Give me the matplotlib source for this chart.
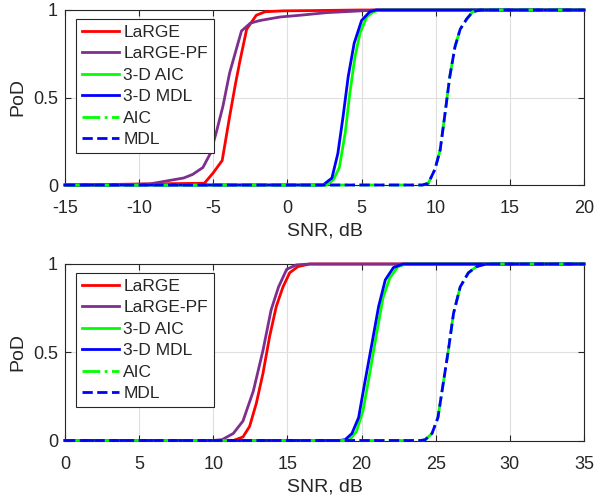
import matplotlib
matplotlib.use("Agg")
import matplotlib.pyplot as plt

plt.rcParams['font.family'] = ['Liberation Sans', 'DejaVu Sans']

labels = ["LaRGE", "LaRGE-PF", "3-D AIC", "3-D MDL", "AIC", "MDL"]

# ---- Top panel data (SNR in dB, PoD) ----
top_large_x = [-15, -5.6, -5.0, -4.4, -3.9, -3.5, -3.2, -2.75, -2.1, -1.5, -0.3, 2.0, 4.9, 20]
top_large_y = [0, 0.01, 0.07, 0.14, 0.39, 0.58, 0.71, 0.89, 0.97, 0.99, 0.995, 0.997, 1.0, 1.0]
top_pf_x = [-15, -12, -9.3, -7.0, -6.4, -5.7, -5.2, -4.8, -4.35, -3.9, -3.4, -3.1, -2.5, -1.85, -0.5, 0.85, 2.65, 4.7, 6, 20]
top_pf_y = [0, 0, 0.006, 0.04, 0.06, 0.10, 0.18, 0.30, 0.45, 0.64, 0.79, 0.88, 0.925, 0.94, 0.96, 0.97, 0.985, 0.994, 1, 1]
top_aic3_x = [-15, 2.65, 3.1, 3.5, 3.9, 4.2, 4.55, 4.9, 5.35, 5.8, 6.25, 20]
top_aic3_y = [0, 0, 0.03, 0.10, 0.30, 0.52, 0.73, 0.87, 0.96, 0.99, 1, 1]
top_mdl3_x = [-15, 2.4, 3.0, 3.4, 3.75, 4.1, 4.5, 5.0, 5.55, 6.0, 20]
top_mdl3_y = [0, 0, 0.04, 0.18, 0.39, 0.62, 0.81, 0.94, 0.99, 1, 1]
top_aic_x = [-15, 9.1, 9.5, 9.95, 10.3, 10.6, 10.95, 11.3, 11.65, 12.1, 12.5, 13.0, 20]
top_aic_y = [0, 0, 0.01, 0.09, 0.20, 0.39, 0.62, 0.79, 0.89, 0.95, 0.99, 1, 1]
top_mdl_x = [-15, 9.1, 9.5, 9.95, 10.3, 10.6, 10.95, 11.3, 11.65, 12.1, 12.5, 13.0, 20]
top_mdl_y = [0, 0, 0.01, 0.09, 0.20, 0.39, 0.62, 0.79, 0.89, 0.95, 0.99, 1, 1]

# ---- Bottom panel data ----
bot_large_x = [0, 11.35, 12.0, 12.45, 12.9, 13.35, 13.8, 14.25, 14.7, 15.15, 15.7, 16.5, 35]
bot_large_y = [0, 0, 0.02, 0.08, 0.21, 0.38, 0.59, 0.76, 0.87, 0.95, 0.985, 1, 1]
bot_pf_x = [0, 10.0, 10.6, 11.35, 12.0, 12.7, 13.35, 13.9, 14.4, 14.95, 15.6, 16.5, 35]
bot_pf_y = [0, 0, 0.005, 0.04, 0.11, 0.28, 0.51, 0.74, 0.87, 0.97, 0.995, 1, 1]
bot_aic3_x = [0, 18.8, 19.2, 19.65, 20.1, 20.55, 21.0, 21.45, 21.9, 22.45, 23.0, 35]
bot_aic3_y = [0, 0, 0.005, 0.05, 0.17, 0.38, 0.60, 0.81, 0.92, 0.985, 1, 1]
bot_mdl3_x = [0, 18.5, 18.9, 19.35, 19.8, 20.2, 20.7, 21.15, 21.6, 22.15, 22.8, 35]
bot_mdl3_y = [0, 0, 0.005, 0.04, 0.13, 0.32, 0.55, 0.76, 0.91, 0.98, 1, 1]
bot_aic_x = [0, 24.0, 24.3, 24.75, 25.15, 25.5, 25.85, 26.2, 26.65, 27.2, 27.75, 28.4, 35]
bot_aic_y = [0, 0, 0.005, 0.04, 0.13, 0.32, 0.51, 0.72, 0.87, 0.95, 0.985, 1, 1]
bot_mdl_x = [0, 24.0, 24.3, 24.75, 25.15, 25.5, 25.85, 26.2, 26.65, 27.2, 27.75, 28.4, 35]
bot_mdl_y = [0, 0, 0.005, 0.04, 0.13, 0.32, 0.51, 0.72, 0.87, 0.95, 0.985, 1, 1]

top_xticks = [-15, -10, -5, 0, 5, 10, 15, 20]
bot_xticks = [0, 5, 10, 15, 20, 25, 30, 35]
yticks = [0, 0.5, 1]
ytick_labels = ["0", "0.5", "1"]

RED = "#FF0000"
PURPLE = "#7E2F8E"
GREEN = "#00FF00"
BLUE = "#0000FF"
TXT = "#262626"
LW = 2.0

fig = plt.figure(figsize=(5.95, 5.0), dpi=100)
ax1 = fig.add_axes([65 / 595, 1 - 185 / 500, 519 / 595, 175 / 500])
ax2 = fig.add_axes([65 / 595, 1 - 440.5 / 500, 519 / 595, 176.5 / 500])


def draw(ax, series, xlim, xticks):
    for (x, y), lab, col, ls in zip(series, labels,
                                   [RED, PURPLE, GREEN, BLUE, GREEN, BLUE],
                                   ["-", "-", "-", "-", "-.", "--"]):
        ax.plot(x, y, color=col, ls=ls, lw=LW, label=lab, clip_on=False, zorder=3)
    ax.set_xlim(*xlim)
    ax.set_ylim(0, 1)
    ax.set_xticks(xticks)
    ax.set_xticklabels([str(t) for t in xticks])
    ax.set_yticks(yticks)
    ax.set_yticklabels(ytick_labels)
    ax.grid(True, color="#DFDFDF", lw=0.8)
    ax.set_axisbelow(True)
    ax.tick_params(direction="in", top=True, right=True, length=4, width=0.8,
                   colors=TXT, labelsize=13)
    ax.tick_params(axis="x", pad=11)
    ax.tick_params(axis="y", pad=5)
    for s in ax.spines.values():
        s.set_color(TXT)
        s.set_linewidth(0.8)
    ax.set_xlabel("SNR, dB", fontsize=14, color=TXT, labelpad=4)
    ax.set_ylabel("PoD", fontsize=14, color=TXT, labelpad=5)
    leg = ax.legend(loc="upper left", bbox_to_anchor=(0.022, 0.95), fontsize=12.5,
                    frameon=True, fancybox=False, edgecolor=TXT, framealpha=1,
                    handlelength=2.1, handletextpad=0.25, labelspacing=0.36,
                    borderpad=0.35, borderaxespad=0)
    leg.get_frame().set_linewidth(0.8)
    leg.set_zorder(10)
    for t in leg.get_texts():
        t.set_color(TXT)


draw(ax1, [(top_large_x, top_large_y), (top_pf_x, top_pf_y), (top_aic3_x, top_aic3_y),
           (top_mdl3_x, top_mdl3_y), (top_aic_x, top_aic_y), (top_mdl_x, top_mdl_y)],
     (-15, 20), top_xticks)
draw(ax2, [(bot_large_x, bot_large_y), (bot_pf_x, bot_pf_y), (bot_aic3_x, bot_aic3_y),
           (bot_mdl3_x, bot_mdl3_y), (bot_aic_x, bot_aic_y), (bot_mdl_x, bot_mdl_y)],
     (0, 35), bot_xticks)

fig.savefig("out.png", dpi=100)
